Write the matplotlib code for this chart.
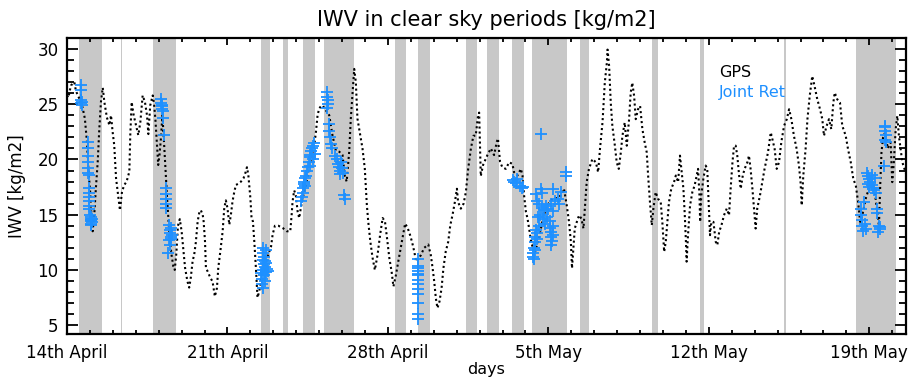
import matplotlib
matplotlib.use("Agg")
import matplotlib.pyplot as plt
import numpy as np
from matplotlib.ticker import MultipleLocator

plt.rcParams['font.family'] = ['DejaVu Sans']

# clear sky periods, in days since 14th April 00 UTC
band_start = [0.54, 2.36, 3.76, 8.46, 9.43, 10.29, 11.22, 14.30, 15.30, 17.42,
              18.31, 19.40, 20.30, 22.40, 25.50, 27.60, 31.29, 34.44]
band_end = [1.53, 2.42, 4.77, 8.85, 9.62, 10.81, 12.53, 14.80, 15.85, 17.87,
            18.83, 19.92, 21.80, 22.78, 25.76, 27.78, 31.35, 36.18]

# GPS integrated water vapour
gps_day = [0.0, 0.06, 0.17, 0.32, 0.39, 0.54, 0.68, 0.78, 0.87, 0.93, 1.02, 1.08, 1.12,
           1.19, 1.26, 1.34, 1.41, 1.48, 1.56, 1.63, 1.74, 1.85, 1.92, 1.99, 2.06, 2.14,
           2.21, 2.31, 2.40, 2.50, 2.60, 2.72, 2.76, 2.82, 2.91, 3.01, 3.11, 3.20, 3.30,
           3.40, 3.49, 3.55, 3.63, 3.74, 3.80, 3.86, 3.92, 3.98, 4.04, 4.10, 4.16, 4.22,
           4.30, 4.38, 4.46, 4.55, 4.64, 4.70, 4.77, 4.84, 4.92, 5.00, 5.06, 5.15, 5.25,
           5.33, 5.40, 5.48, 5.55, 5.62, 5.70, 5.78, 5.84, 5.92, 5.96, 6.02, 6.06, 6.15,
           6.25, 6.35, 6.45, 6.54, 6.60, 6.69, 6.79, 6.86, 6.93, 7.00, 7.08, 7.15, 7.22,
           7.30, 7.37, 7.47, 7.59, 7.70, 7.80, 7.85, 7.91, 8.00, 8.05, 8.11, 8.17, 8.24,
           8.31, 8.38, 8.50, 8.65, 8.80, 8.90, 8.97, 9.07, 9.22, 9.41, 9.59, 9.74, 9.80,
           9.84, 9.91, 9.98, 10.06, 10.13, 10.20, 10.28, 10.40, 10.50, 10.60, 10.70, 10.80,
           10.86, 10.93, 11.00, 11.10, 11.22, 11.34, 11.44, 11.58, 11.73, 11.88, 12.02,
           12.12, 12.20, 12.31, 12.38, 12.46, 12.53, 12.60, 12.67, 12.79, 12.89, 12.99,
           13.08, 13.14, 13.23, 13.33, 13.43, 13.55, 13.66, 13.77, 13.87, 13.96, 14.06,
           14.16, 14.24, 14.35, 14.45, 14.56, 14.67, 14.75, 14.86, 14.96, 15.05, 15.15,
           15.23, 15.33, 15.44, 15.58, 15.76, 15.87, 15.95, 16.02, 16.09, 16.16, 16.25,
           16.34, 16.42, 16.52, 16.63, 16.72, 16.82, 16.92, 17.01, 17.06, 17.18, 17.30,
           17.40, 17.50, 17.62, 17.73, 17.83, 17.93, 17.98, 18.05, 18.15, 18.34, 18.49,
           18.63, 18.75, 18.80, 18.89, 18.99, 19.14, 19.29, 19.43, 19.50, 19.65, 19.80,
           19.87, 19.94, 20.02, 20.09, 20.16, 20.25, 20.40, 20.60, 20.80, 21.00, 21.20,
           21.40, 21.54, 21.68, 21.80, 21.90, 21.98, 22.03, 22.09, 22.15, 22.24, 22.34,
           22.44, 22.53, 22.59, 22.67, 22.77, 22.92, 23.07, 23.17, 23.25, 23.36, 23.46,
           23.55, 23.58, 23.65, 23.72, 23.79, 23.90, 23.98, 24.07, 24.16, 24.23, 24.33,
           24.42, 24.52, 24.59, 24.66, 24.74, 24.81, 24.91, 25.00, 25.10, 25.20, 25.29,
           25.35, 25.43, 25.51, 25.58, 25.68, 25.78, 25.90, 25.97, 26.05, 26.12, 26.19,
           26.26, 26.36, 26.48, 26.56, 26.66, 26.74, 26.80, 26.89, 26.95, 27.00, 27.03,
           27.09, 27.18, 27.28, 27.38, 27.47, 27.53, 27.59, 27.62, 27.67, 27.76, 27.86,
           27.93, 28.00, 28.05, 28.11, 28.20, 28.30, 28.37, 28.45, 28.55, 28.66, 28.78,
           28.88, 28.95, 29.03, 29.10, 29.17, 29.24, 29.32, 29.39, 29.48, 29.56, 29.68,
           29.75, 29.82, 29.90, 29.97, 30.04, 30.11, 30.23, 30.33, 30.43, 30.58, 30.70,
           30.77, 30.87, 30.96, 31.06, 31.16, 31.28, 31.40, 31.50, 31.60, 31.71, 31.83,
           31.93, 32.00, 32.05, 32.12, 32.22, 32.30, 32.40, 32.51, 32.61, 32.73, 32.85,
           32.95, 33.02, 33.14, 33.24, 33.34, 33.43, 33.49, 33.60, 33.72, 33.82, 33.97,
           34.07, 34.19, 34.30, 34.41, 34.51, 34.60, 34.70, 34.85, 35.00, 35.21, 35.30,
           35.42, 35.48, 35.53, 35.60, 35.70, 35.80, 35.93, 36.00, 36.07, 36.15, 36.22,
           36.29, 36.44, 36.58, 36.73, 36.87]
gps_iwv = [25.8, 25.6, 26.7, 27.0, 26.2, 25.5, 24.7, 23.7, 21.6, 19.2, 16.8, 14.4, 13.5,
           15.0, 17.4, 19.8, 22.8, 25.2, 26.5, 25.2, 23.8, 23.1, 24.0, 22.5, 21.3, 18.3,
           17.1, 15.4, 17.1, 17.7, 18.0, 18.9, 22.2, 25.2, 24.0, 23.1, 22.2, 23.4, 25.8,
           25.2, 24.0, 22.3, 24.9, 25.8, 25.0, 23.5, 21.5, 19.5, 20.5, 22.0, 24.0, 22.0,
           19.0, 16.0, 13.5, 11.5, 10.3, 10.0, 11.5, 14.0, 14.6, 13.5, 12.2, 10.2, 9.0,
           8.4, 9.3, 10.8, 11.4, 12.5, 14.4, 15.3, 15.4, 15.0, 14.4, 12.6, 10.2, 9.8,
           9.3, 8.95, 7.6, 8.35, 10.2, 11.7, 13.5, 15.6, 16.3, 15.6, 14.1, 15.0, 16.2,
           17.1, 17.7, 17.8, 18.0, 18.3, 18.9, 19.3, 18.6, 16.5, 14.7, 14.4, 12.6, 10.2,
           7.5, 8.0, 9.5, 10.5, 11.5, 12.1, 13.2, 14.0, 14.0, 13.8, 13.5, 13.5, 15.0,
           16.2, 17.2, 16.8, 15.3, 14.7, 15.6, 16.5, 17.5, 18.5, 19.5, 20.5, 21.5,
           22.5, 24.0, 24.6, 24.9, 24.7, 24.3, 24.0, 22.2, 20.8, 20.7, 20.4,
           18.5, 18.0, 20.7, 23.7, 26.1, 28.2, 27.0, 23.7, 22.2, 21.0, 19.2,
           15.9, 14.4, 12.6, 11.1, 10.0, 11.4, 13.2, 14.7, 14.4, 12.9, 11.1,
           9.85, 8.5, 9.55, 10.75, 12.0, 13.2, 14.2, 13.8, 13.2, 12.55, 11.65,
           10.75, 11.0, 11.35, 12.0, 12.3, 11.35, 10.15, 8.95, 7.45, 6.55, 7.15,
           8.35, 10.15, 11.65, 12.55, 14.05, 15.0, 16.15, 17.35, 16.15, 15.55, 16.0,
           17.05, 19.15, 21.0, 22.15, 22.15, 23.95, 24.25, 18.5, 19.5, 20.4, 21.0,
           20.4, 21.6, 21.9, 19.8, 19.3, 19.15, 19.75, 19.6, 18.85, 18.55, 19.15,
           18.55, 16.75, 15.25, 14.65, 13.75, 12.5, 11.5, 13.0, 15.0, 16.0, 16.5,
           16.5, 16.75, 17.35, 15.85, 14.35, 12.55, 10.15, 11.95, 13.75, 14.35, 14.95,
           14.65, 13.75, 15.55, 17.95, 19.15, 20.05, 19.75, 18.85, 20.95, 23.35, 26.95,
           28.75, 29.95, 28.45, 25.15, 23.05, 21.25, 19.75, 19.15, 20.65, 22.15, 23.35,
           21.25, 23.65, 26.05, 26.95, 25.75, 23.65, 24.55, 24.85, 22.75, 21.55, 20.65,
           18.55, 16.15, 14.05, 15.55, 17.05, 16.45, 16.15, 14.35, 11.65, 12.55, 14.35,
           16.15, 17.35, 17.95, 18.55, 17.95, 20.35, 19.15, 17.35, 14.95, 12.55, 10.75,
           13.15, 15.85, 17.05, 17.65, 18.55, 19.15, 16.75, 14.35, 16.75, 18.25, 19.45,
           19.15, 15.55, 13.15, 14.35, 14.35, 12.55, 12.25, 13.45, 14.05, 14.95, 15.55,
           14.95, 17.35, 19.75, 21.25, 21.25, 20.35, 18.55, 17.35, 18.55, 19.15, 19.75,
           20.35, 19.15, 17.35, 15.55, 13.75, 15.55, 16.75, 17.95, 19.15, 20.65, 22.45,
           21.85, 20.95, 19.15, 19.75, 21.55, 23.05, 23.65, 24.55, 23.65, 22.15, 20.95,
           19.45, 17.95, 15.85, 18.55, 20.95, 23.65, 25.75, 27.55, 26.65, 25.45, 24.55,
           23.65, 22.15, 23.05, 23.65, 22.75, 25.15, 26.05, 25.45, 25.15, 23.05, 22.15,
           20.95, 19.75, 18.25, 17.65, 16.15, 14.35, 15.0, 16.5, 17.5, 17.65, 16.0,
           14.0, 17.95, 20.65, 22.0, 22.5, 21.0, 21.55, 17.95, 19.75, 22.75, 23.95,
           22.15, 19.75, 18.85, 18.25, 17.95]

# joint retrieval during clear sky
ret_day = [0.61, 0.61, 0.63, 0.64, 0.66, 0.63,
           0.90, 0.91, 0.92, 0.92, 0.93, 0.93, 0.94,
           0.96, 0.96, 0.97, 0.97, 0.98, 0.98,
           1.02, 1.03, 1.04, 1.05, 1.06, 1.07, 1.05, 1.08, 1.04,
           4.10, 4.12, 4.14, 4.16, 4.13, 4.17, 4.18, 4.22,
           4.30, 4.31, 4.32, 4.33, 4.31,
           4.45, 4.48, 4.50, 4.52, 4.55, 4.47, 4.53, 4.50, 4.42, 4.58,
           8.55, 8.57, 8.60, 8.62, 8.58, 8.65, 8.55, 8.70, 8.60, 8.52, 8.63, 8.50,
           8.55, 8.68, 8.75, 8.72, 8.53, 8.48, 8.66,
           10.22, 10.25, 10.28, 10.30, 10.32, 10.35, 10.38, 10.40, 10.42, 10.45, 10.50,
           10.55, 10.58, 10.62, 10.66, 10.70, 10.74, 10.78, 10.80, 10.72, 10.60,
           11.35, 11.36, 11.37, 11.38, 11.36, 11.42, 11.44, 11.46, 11.50, 11.55, 11.70,
           11.78, 11.82, 11.85, 11.90, 11.92, 11.95, 12.00, 12.05, 12.10, 12.12,
           15.30, 15.30, 15.31, 15.30, 15.31, 15.30, 15.31, 15.30, 15.30, 15.31, 15.30,
           15.32, 15.31,
           19.47, 19.52, 19.58, 19.62, 19.78, 19.84, 19.88,
           20.67, 21.76, 21.76, 21.22, 21.54, 20.45, 20.67, 20.72,
           20.50, 20.60, 20.70, 20.80, 20.90, 21.00, 21.10, 21.20, 21.30, 20.65, 20.75,
           20.85, 20.55, 20.95, 21.05, 21.40, 21.45, 20.60,
           20.45, 20.42, 20.40, 20.38, 20.35, 20.33, 20.38, 20.42, 20.50, 20.52,
           21.05, 21.10, 21.12, 21.15, 21.10, 21.18, 21.20,
           34.62, 34.65, 34.68, 34.70, 34.72, 34.75, 34.80, 34.85,
           34.90, 34.95, 35.00, 35.05, 35.10, 35.15, 35.20, 35.25, 35.30, 35.00, 35.10,
           34.95,
           35.32, 35.35, 35.42, 35.45, 35.40, 35.48,
           35.64, 35.70, 35.70, 35.72, 35.70, 35.73, 35.68]
ret_iwv = [26.7, 26.3, 25.4, 25.2, 24.9, 25.1,
           21.6, 21.0, 20.3, 19.8, 19.2, 18.8, 18.6,
           17.4, 17.0, 16.6, 16.2, 15.8, 15.5,
           15.0, 14.8, 14.6, 14.4, 14.5, 14.3, 14.1, 14.6, 14.2,
           25.5, 25.1, 24.8, 24.6, 24.9, 24.4, 23.8, 22.2,
           17.4, 16.9, 16.4, 16.0, 15.6,
           14.1, 13.6, 13.3, 13.0, 12.8, 12.7, 13.8, 12.3, 11.5, 13.2,
           12.0, 11.5, 11.2, 10.8, 10.5, 10.3, 10.0, 9.8, 9.5, 9.2, 9.0, 8.7,
           8.35, 10.6, 9.9, 10.1, 10.9, 9.7, 11.8,
           16.2, 16.6, 17.0, 17.4, 17.8, 18.0, 18.3, 17.6, 18.5, 19.0, 19.3,
           19.8, 20.2, 20.4, 20.8, 21.0, 21.2, 21.5, 20.5, 20.0, 19.4,
           26.1, 25.7, 25.4, 25.0, 24.7, 23.2, 22.6, 22.0, 21.4, 21.0, 20.3,
           20.0, 19.6, 19.3, 19.0, 18.7, 19.8, 19.2, 18.8, 16.8, 16.4,
           11.0, 10.4, 9.9, 9.5, 9.1, 8.7, 8.3, 7.8, 7.0, 6.0, 5.6,
           10.2, 9.6,
           18.1, 18.0, 17.9, 18.2, 17.6, 17.4, 17.5,
           22.3, 18.85, 18.5, 17.35, 17.05, 16.9, 17.35, 17.0,
           16.2, 16.0, 15.6, 15.4, 15.8, 15.5, 16.0, 15.3, 16.2, 15.0, 14.6,
           14.2, 14.8, 14.8, 14.4, 16.4, 16.0, 14.0,
           13.6, 13.0, 12.5, 12.0, 11.5, 11.2, 11.0, 11.8, 12.8, 13.3,
           13.8, 13.4, 13.0, 12.6, 12.3, 14.0, 13.2,
           15.5, 15.0, 14.5, 14.0, 13.5, 16.15, 14.2, 13.7,
           18.8, 18.5, 18.2, 18.0, 17.7, 17.4, 17.2, 18.3, 17.0, 17.5, 18.6,
           17.8,
           15.55, 15.2, 14.0, 13.7, 13.45, 13.9,
           19.45, 23.0, 22.6, 22.2, 21.8, 21.55, 22.9]

tick_days = [0, 7, 14, 21, 28, 35]
tick_labels = ['14th April', '21th April', '28th April', '5th May', '12th May', '19th May']

fig = plt.figure(figsize=(9.12, 3.82), dpi=100)
ax = fig.add_axes([67 / 912, 48 / 382, 839 / 912, 296 / 382])

for s, e in zip(band_start, band_end):
    ax.axvspan(s, e, color='#c8c8c8', lw=0, zorder=0)

ax.plot(gps_day, gps_iwv, color='black', lw=1.5, ls=(0, (1, 1.4)), zorder=2)
ax.plot(ret_day, ret_iwv, ls='none', marker='+', ms=9, mew=1.3,
        color='#1e90ff', zorder=3)

ax.set_xlim(0, 36.6)
ax.set_ylim(4.2, 31.0)

ax.set_xticks(tick_days)
ax.set_xticklabels(tick_labels)
ax.xaxis.set_minor_locator(MultipleLocator(1))
ax.set_yticks([5, 10, 15, 20, 25, 30])
ax.yaxis.set_minor_locator(MultipleLocator(1))

ax.tick_params(axis='both', which='both', direction='in', top=True, right=True,
               labelsize=12, width=1.3, colors='black')
ax.tick_params(axis='y', which='major', length=8, pad=6)
ax.tick_params(axis='y', which='minor', length=5)
ax.tick_params(axis='x', which='major', length=5, pad=7)
ax.tick_params(axis='x', which='minor', length=3)
for sp in ax.spines.values():
    sp.set_linewidth(1.6)

ax.set_title('IWV in clear sky periods [kg/m2]', fontsize=15, pad=9)
ax.set_ylabel('IWV [kg/m2]', fontsize=12, labelpad=8)
ax.set_xlabel('days', fontsize=11.5, labelpad=0)

ax.text(0.777, 0.885, 'GPS', transform=ax.transAxes, fontsize=11.5,
        color='black', va='center', ha='left')
ax.text(0.777, 0.815, 'Joint Ret', transform=ax.transAxes, fontsize=11.5,
        color='#1e90ff', va='center', ha='left')

fig.savefig('out.png', dpi=100)
